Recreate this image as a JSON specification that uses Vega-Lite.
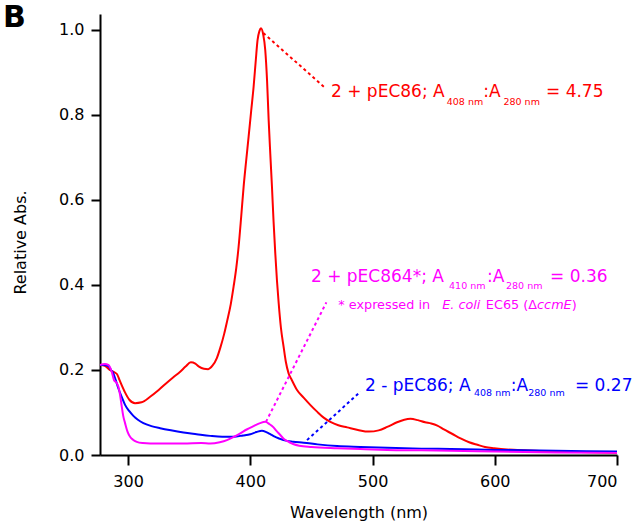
{
  "$schema": "https://vega.github.io/schema/vega-lite/v6.json",
  "width": 517,
  "height": 441,
  "autosize": {"type": "none"},
  "padding": {"left": 100, "top": 14, "right": 18, "bottom": 68},
  "background": "white",
  "title": {"text": "B", "anchor": "start", "frame": "group", "fontSize": 30, "fontWeight": "bold", "font": "DejaVu Sans", "color": "black", "baseline": "alphabetic", "offset": -43, "dx": -97},
  "config": {
    "view": {"stroke": null},
    "font": "DejaVu Sans",
    "axis": {
      "domainColor": "black", "domainWidth": 2, "tickColor": "black", "tickWidth": 2,
      "labelColor": "black", "labelFont": "DejaVu Sans", "labelFontSize": 16,
      "titleColor": "black", "titleFont": "DejaVu Sans", "titleFontSize": 16, "titleFontWeight": "normal",
      "grid": false
    }
  },
  "datasets": {
    "spectra": [
      {"wl": 277, "v": 0.212, "s": "2 + pEC86"},
      {"wl": 281, "v": 0.210, "s": "2 + pEC86"},
      {"wl": 285, "v": 0.200, "s": "2 + pEC86"},
      {"wl": 288.5, "v": 0.195, "s": "2 + pEC86"},
      {"wl": 291, "v": 0.190, "s": "2 + pEC86"},
      {"wl": 293, "v": 0.176, "s": "2 + pEC86"},
      {"wl": 297, "v": 0.150, "s": "2 + pEC86"},
      {"wl": 301, "v": 0.130, "s": "2 + pEC86"},
      {"wl": 305.7, "v": 0.122, "s": "2 + pEC86"},
      {"wl": 311, "v": 0.124, "s": "2 + pEC86"},
      {"wl": 318, "v": 0.137, "s": "2 + pEC86"},
      {"wl": 325, "v": 0.153, "s": "2 + pEC86"},
      {"wl": 331.7, "v": 0.170, "s": "2 + pEC86"},
      {"wl": 337, "v": 0.183, "s": "2 + pEC86"},
      {"wl": 342.6, "v": 0.196, "s": "2 + pEC86"},
      {"wl": 347, "v": 0.208, "s": "2 + pEC86"},
      {"wl": 351.3, "v": 0.218, "s": "2 + pEC86"},
      {"wl": 355, "v": 0.215, "s": "2 + pEC86"},
      {"wl": 358, "v": 0.208, "s": "2 + pEC86"},
      {"wl": 362, "v": 0.203, "s": "2 + pEC86"},
      {"wl": 365.5, "v": 0.202, "s": "2 + pEC86"},
      {"wl": 369, "v": 0.210, "s": "2 + pEC86"},
      {"wl": 372.6, "v": 0.228, "s": "2 + pEC86"},
      {"wl": 375.4, "v": 0.252, "s": "2 + pEC86"},
      {"wl": 378.6, "v": 0.285, "s": "2 + pEC86"},
      {"wl": 381, "v": 0.315, "s": "2 + pEC86"},
      {"wl": 384, "v": 0.355, "s": "2 + pEC86"},
      {"wl": 386.3, "v": 0.396, "s": "2 + pEC86"},
      {"wl": 388.5, "v": 0.440, "s": "2 + pEC86"},
      {"wl": 390.4, "v": 0.490, "s": "2 + pEC86"},
      {"wl": 392.5, "v": 0.560, "s": "2 + pEC86"},
      {"wl": 394.5, "v": 0.631, "s": "2 + pEC86"},
      {"wl": 396.5, "v": 0.690, "s": "2 + pEC86"},
      {"wl": 398.6, "v": 0.749, "s": "2 + pEC86"},
      {"wl": 400.7, "v": 0.810, "s": "2 + pEC86"},
      {"wl": 402.7, "v": 0.867, "s": "2 + pEC86"},
      {"wl": 404.5, "v": 0.930, "s": "2 + pEC86"},
      {"wl": 405.9, "v": 0.976, "s": "2 + pEC86"},
      {"wl": 407.5, "v": 0.998, "s": "2 + pEC86"},
      {"wl": 408.7, "v": 1.004, "s": "2 + pEC86"},
      {"wl": 410.5, "v": 0.990, "s": "2 + pEC86"},
      {"wl": 412.2, "v": 0.953, "s": "2 + pEC86"},
      {"wl": 413.7, "v": 0.880, "s": "2 + pEC86"},
      {"wl": 415, "v": 0.788, "s": "2 + pEC86"},
      {"wl": 416.3, "v": 0.710, "s": "2 + pEC86"},
      {"wl": 417.7, "v": 0.631, "s": "2 + pEC86"},
      {"wl": 419, "v": 0.550, "s": "2 + pEC86"},
      {"wl": 420.4, "v": 0.475, "s": "2 + pEC86"},
      {"wl": 421.8, "v": 0.410, "s": "2 + pEC86"},
      {"wl": 423.2, "v": 0.357, "s": "2 + pEC86"},
      {"wl": 425, "v": 0.300, "s": "2 + pEC86"},
      {"wl": 427.2, "v": 0.255, "s": "2 + pEC86"},
      {"wl": 429, "v": 0.220, "s": "2 + pEC86"},
      {"wl": 431.3, "v": 0.192, "s": "2 + pEC86"},
      {"wl": 434, "v": 0.176, "s": "2 + pEC86"},
      {"wl": 438.2, "v": 0.153, "s": "2 + pEC86"},
      {"wl": 443.6, "v": 0.135, "s": "2 + pEC86"},
      {"wl": 449, "v": 0.118, "s": "2 + pEC86"},
      {"wl": 454.6, "v": 0.102, "s": "2 + pEC86"},
      {"wl": 460, "v": 0.088, "s": "2 + pEC86"},
      {"wl": 465.5, "v": 0.078, "s": "2 + pEC86"},
      {"wl": 472, "v": 0.070, "s": "2 + pEC86"},
      {"wl": 479.2, "v": 0.065, "s": "2 + pEC86"},
      {"wl": 488, "v": 0.059, "s": "2 + pEC86"},
      {"wl": 497, "v": 0.055, "s": "2 + pEC86"},
      {"wl": 505, "v": 0.058, "s": "2 + pEC86"},
      {"wl": 512, "v": 0.066, "s": "2 + pEC86"},
      {"wl": 520, "v": 0.077, "s": "2 + pEC86"},
      {"wl": 526, "v": 0.083, "s": "2 + pEC86"},
      {"wl": 531, "v": 0.085, "s": "2 + pEC86"},
      {"wl": 537, "v": 0.082, "s": "2 + pEC86"},
      {"wl": 543, "v": 0.077, "s": "2 + pEC86"},
      {"wl": 548, "v": 0.074, "s": "2 + pEC86"},
      {"wl": 553, "v": 0.069, "s": "2 + pEC86"},
      {"wl": 558.4, "v": 0.060, "s": "2 + pEC86"},
      {"wl": 565, "v": 0.050, "s": "2 + pEC86"},
      {"wl": 572, "v": 0.039, "s": "2 + pEC86"},
      {"wl": 579, "v": 0.030, "s": "2 + pEC86"},
      {"wl": 585.8, "v": 0.024, "s": "2 + pEC86"},
      {"wl": 592, "v": 0.019, "s": "2 + pEC86"},
      {"wl": 599.4, "v": 0.016, "s": "2 + pEC86"},
      {"wl": 610, "v": 0.013, "s": "2 + pEC86"},
      {"wl": 618.5, "v": 0.012, "s": "2 + pEC86"},
      {"wl": 632, "v": 0.010, "s": "2 + pEC86"},
      {"wl": 646, "v": 0.008, "s": "2 + pEC86"},
      {"wl": 670, "v": 0.007, "s": "2 + pEC86"},
      {"wl": 700, "v": 0.005, "s": "2 + pEC86"},

      {"wl": 277, "v": 0.212, "s": "2 - pEC86"},
      {"wl": 280, "v": 0.212, "s": "2 - pEC86"},
      {"wl": 283.8, "v": 0.209, "s": "2 - pEC86"},
      {"wl": 286, "v": 0.200, "s": "2 - pEC86"},
      {"wl": 287.9, "v": 0.192, "s": "2 - pEC86"},
      {"wl": 290, "v": 0.175, "s": "2 - pEC86"},
      {"wl": 292, "v": 0.157, "s": "2 - pEC86"},
      {"wl": 295, "v": 0.135, "s": "2 - pEC86"},
      {"wl": 297.5, "v": 0.118, "s": "2 - pEC86"},
      {"wl": 301, "v": 0.103, "s": "2 - pEC86"},
      {"wl": 304.3, "v": 0.092, "s": "2 - pEC86"},
      {"wl": 308, "v": 0.083, "s": "2 - pEC86"},
      {"wl": 312.5, "v": 0.075, "s": "2 - pEC86"},
      {"wl": 319, "v": 0.068, "s": "2 - pEC86"},
      {"wl": 326.2, "v": 0.063, "s": "2 - pEC86"},
      {"wl": 335, "v": 0.058, "s": "2 - pEC86"},
      {"wl": 345.3, "v": 0.053, "s": "2 - pEC86"},
      {"wl": 356, "v": 0.049, "s": "2 - pEC86"},
      {"wl": 367.2, "v": 0.045, "s": "2 - pEC86"},
      {"wl": 377, "v": 0.043, "s": "2 - pEC86"},
      {"wl": 386.3, "v": 0.043, "s": "2 - pEC86"},
      {"wl": 394, "v": 0.046, "s": "2 - pEC86"},
      {"wl": 400, "v": 0.049, "s": "2 - pEC86"},
      {"wl": 405, "v": 0.054, "s": "2 - pEC86"},
      {"wl": 409.5, "v": 0.057, "s": "2 - pEC86"},
      {"wl": 413, "v": 0.054, "s": "2 - pEC86"},
      {"wl": 416.3, "v": 0.049, "s": "2 - pEC86"},
      {"wl": 420, "v": 0.043, "s": "2 - pEC86"},
      {"wl": 424.5, "v": 0.038, "s": "2 - pEC86"},
      {"wl": 427.2, "v": 0.035, "s": "2 - pEC86"},
      {"wl": 435, "v": 0.031, "s": "2 - pEC86"},
      {"wl": 443.6, "v": 0.029, "s": "2 - pEC86"},
      {"wl": 455, "v": 0.025, "s": "2 - pEC86"},
      {"wl": 471, "v": 0.021, "s": "2 - pEC86"},
      {"wl": 490, "v": 0.019, "s": "2 - pEC86"},
      {"wl": 512, "v": 0.017, "s": "2 - pEC86"},
      {"wl": 540, "v": 0.015, "s": "2 - pEC86"},
      {"wl": 564, "v": 0.014, "s": "2 - pEC86"},
      {"wl": 600, "v": 0.012, "s": "2 - pEC86"},
      {"wl": 650, "v": 0.010, "s": "2 - pEC86"},
      {"wl": 700, "v": 0.008, "s": "2 - pEC86"},

      {"wl": 277, "v": 0.212, "s": "2 + pEC864*"},
      {"wl": 281, "v": 0.214, "s": "2 + pEC864*"},
      {"wl": 283.8, "v": 0.212, "s": "2 + pEC864*"},
      {"wl": 286.6, "v": 0.196, "s": "2 + pEC864*"},
      {"wl": 288.5, "v": 0.176, "s": "2 + pEC864*"},
      {"wl": 290.5, "v": 0.170, "s": "2 + pEC864*"},
      {"wl": 292, "v": 0.161, "s": "2 + pEC864*"},
      {"wl": 293.5, "v": 0.140, "s": "2 + pEC864*"},
      {"wl": 294.8, "v": 0.114, "s": "2 + pEC864*"},
      {"wl": 296, "v": 0.092, "s": "2 + pEC864*"},
      {"wl": 297.5, "v": 0.075, "s": "2 + pEC864*"},
      {"wl": 299.5, "v": 0.055, "s": "2 + pEC864*"},
      {"wl": 301.6, "v": 0.043, "s": "2 + pEC864*"},
      {"wl": 304, "v": 0.036, "s": "2 + pEC864*"},
      {"wl": 307.1, "v": 0.031, "s": "2 + pEC864*"},
      {"wl": 312, "v": 0.028, "s": "2 + pEC864*"},
      {"wl": 318, "v": 0.027, "s": "2 + pEC864*"},
      {"wl": 330, "v": 0.027, "s": "2 + pEC864*"},
      {"wl": 345.3, "v": 0.027, "s": "2 + pEC864*"},
      {"wl": 360, "v": 0.028, "s": "2 + pEC864*"},
      {"wl": 367.2, "v": 0.027, "s": "2 + pEC864*"},
      {"wl": 375, "v": 0.030, "s": "2 + pEC864*"},
      {"wl": 380.9, "v": 0.035, "s": "2 + pEC864*"},
      {"wl": 386, "v": 0.042, "s": "2 + pEC864*"},
      {"wl": 391.8, "v": 0.051, "s": "2 + pEC864*"},
      {"wl": 397, "v": 0.060, "s": "2 + pEC864*"},
      {"wl": 402.7, "v": 0.068, "s": "2 + pEC864*"},
      {"wl": 408, "v": 0.075, "s": "2 + pEC864*"},
      {"wl": 412.2, "v": 0.078, "s": "2 + pEC864*"},
      {"wl": 415.5, "v": 0.073, "s": "2 + pEC864*"},
      {"wl": 419, "v": 0.065, "s": "2 + pEC864*"},
      {"wl": 421, "v": 0.058, "s": "2 + pEC864*"},
      {"wl": 424.5, "v": 0.047, "s": "2 + pEC864*"},
      {"wl": 427, "v": 0.039, "s": "2 + pEC864*"},
      {"wl": 430, "v": 0.033, "s": "2 + pEC864*"},
      {"wl": 435, "v": 0.026, "s": "2 + pEC864*"},
      {"wl": 440, "v": 0.022, "s": "2 + pEC864*"},
      {"wl": 450, "v": 0.019, "s": "2 + pEC864*"},
      {"wl": 471, "v": 0.016, "s": "2 + pEC864*"},
      {"wl": 490, "v": 0.014, "s": "2 + pEC864*"},
      {"wl": 512, "v": 0.012, "s": "2 + pEC864*"},
      {"wl": 540, "v": 0.011, "s": "2 + pEC864*"},
      {"wl": 564, "v": 0.010, "s": "2 + pEC864*"},
      {"wl": 600, "v": 0.008, "s": "2 + pEC864*"},
      {"wl": 650, "v": 0.006, "s": "2 + pEC864*"},
      {"wl": 700, "v": 0.005, "s": "2 + pEC864*"}
    ],
    "leaders": [
      {"x": 410.6, "y": 0.993, "x2": 461.4, "y2": 0.863, "s": "2 + pEC86"},
      {"x": 412.8, "y": 0.078, "x2": 462.2, "y2": 0.359, "s": "2 + pEC864*"},
      {"x": 446.4, "y": 0.035, "x2": 490.1, "y2": 0.149, "s": "2 - pEC86"}
    ],
    "ann": [
      {"x": 466.0, "y": 0.8416, "t": "2 + pEC86; A", "k": "main", "s": "2 + pEC86"},
      {"x": 560.7, "y": 0.8235, "t": "408 nm", "k": "sub", "s": "2 + pEC86"},
      {"x": 590.6, "y": 0.8416, "t": ":A", "k": "main", "s": "2 + pEC86"},
      {"x": 607.1, "y": 0.8235, "t": "280 nm", "k": "sub", "s": "2 + pEC86"},
      {"x": 641.9, "y": 0.8416, "t": "= 4.75", "k": "main", "s": "2 + pEC86"},

      {"x": 449.6, "y": 0.4064, "t": "2 + pEC864*; A", "k": "main", "s": "2 + pEC864*"},
      {"x": 562.6, "y": 0.3906, "t": "410 nm", "k": "sub", "s": "2 + pEC864*"},
      {"x": 593.6, "y": 0.4064, "t": ":A", "k": "main", "s": "2 + pEC864*"},
      {"x": 609.2, "y": 0.3906, "t": "280 nm", "k": "sub", "s": "2 + pEC864*"},
      {"x": 645.2, "y": 0.4064, "t": "= 0.36", "k": "main", "s": "2 + pEC864*"},
      {"x": 472.0, "y": 0.3435, "t": "* expressed in", "k": "note", "s": "2 + pEC864*"},
      {"x": 557.0, "y": 0.3435, "t": "E. coli", "k": "ital", "s": "2 + pEC864*"},
      {"x": 592.7, "y": 0.3435, "t": "EC65 (Δ", "k": "note", "s": "2 + pEC864*"},
      {"x": 634.6, "y": 0.3435, "t": "ccmE", "k": "ital", "s": "2 + pEC864*"},
      {"x": 662.9, "y": 0.3435, "t": ")", "k": "note", "s": "2 + pEC864*"},

      {"x": 493.8, "y": 0.1513, "t": "2 - pEC86; A", "k": "main", "s": "2 - pEC86"},
      {"x": 583.0, "y": 0.1388, "t": "408 nm", "k": "sub", "s": "2 - pEC86"},
      {"x": 613.0, "y": 0.1513, "t": ":A", "k": "main", "s": "2 - pEC86"},
      {"x": 627.4, "y": 0.1388, "t": "280 nm", "k": "sub", "s": "2 - pEC86"},
      {"x": 665.6, "y": 0.1513, "t": "= 0.27", "k": "main", "s": "2 - pEC86"}
    ]
  },
  "encoding": {
    "color": {"field": "s", "type": "nominal", "legend": null,
      "scale": {"domain": ["2 + pEC86", "2 + pEC864*", "2 - pEC86"], "range": ["#FF0000", "#FF00FF", "#0000FF"]}}
  },
  "layer": [
    {
      "data": {"name": "spectra"},
      "mark": {"type": "line", "strokeWidth": 2, "interpolate": "monotone"},
      "encoding": {
        "x": {"field": "wl", "type": "quantitative", "scale": {"domain": [277, 700], "nice": false, "zero": false},
          "axis": {"values": [300, 400, 500, 600, 700], "tickSize": 10, "labelPadding": 8, "title": "Wavelength (nm)", "titlePadding": 15}},
        "y": {"field": "v", "type": "quantitative", "scale": {"domain": [0, 1.0376], "nice": false},
          "axis": {"values": [0, 0.2, 0.4, 0.6, 0.8, 1.0], "format": ".1f", "tickSize": 9, "labelPadding": 7, "title": "Relative Abs.", "titlePadding": 30, "titleY": 228}}
      }
    },
    {
      "data": {"name": "leaders"},
      "mark": {"type": "rule", "strokeWidth": 2, "strokeDash": [3, 3]},
      "encoding": {
        "x": {"field": "x", "type": "quantitative"},
        "y": {"field": "y", "type": "quantitative"},
        "x2": {"field": "x2"},
        "y2": {"field": "y2"}
      }
    },
    {
      "data": {"name": "ann"},
      "transform": [{"filter": "datum.k === 'main'"}],
      "mark": {"type": "text", "align": "left", "baseline": "alphabetic", "fontSize": 17, "font": "DejaVu Sans"},
      "encoding": {
        "x": {"field": "x", "type": "quantitative"},
        "y": {"field": "y", "type": "quantitative"},
        "text": {"field": "t"}
      }
    },
    {
      "data": {"name": "ann"},
      "transform": [{"filter": "datum.k === 'sub'"}],
      "mark": {"type": "text", "align": "left", "baseline": "alphabetic", "fontSize": 9.5, "font": "DejaVu Sans"},
      "encoding": {
        "x": {"field": "x", "type": "quantitative"},
        "y": {"field": "y", "type": "quantitative"},
        "text": {"field": "t"}
      }
    },
    {
      "data": {"name": "ann"},
      "transform": [{"filter": "datum.k === 'note'"}],
      "mark": {"type": "text", "align": "left", "baseline": "alphabetic", "fontSize": 12.8, "font": "DejaVu Sans"},
      "encoding": {
        "x": {"field": "x", "type": "quantitative"},
        "y": {"field": "y", "type": "quantitative"},
        "text": {"field": "t"}
      }
    },
    {
      "data": {"name": "ann"},
      "transform": [{"filter": "datum.k === 'ital'"}],
      "mark": {"type": "text", "align": "left", "baseline": "alphabetic", "fontSize": 12.8, "fontStyle": "italic", "font": "DejaVu Sans"},
      "encoding": {
        "x": {"field": "x", "type": "quantitative"},
        "y": {"field": "y", "type": "quantitative"},
        "text": {"field": "t"}
      }
    }
  ]
}
